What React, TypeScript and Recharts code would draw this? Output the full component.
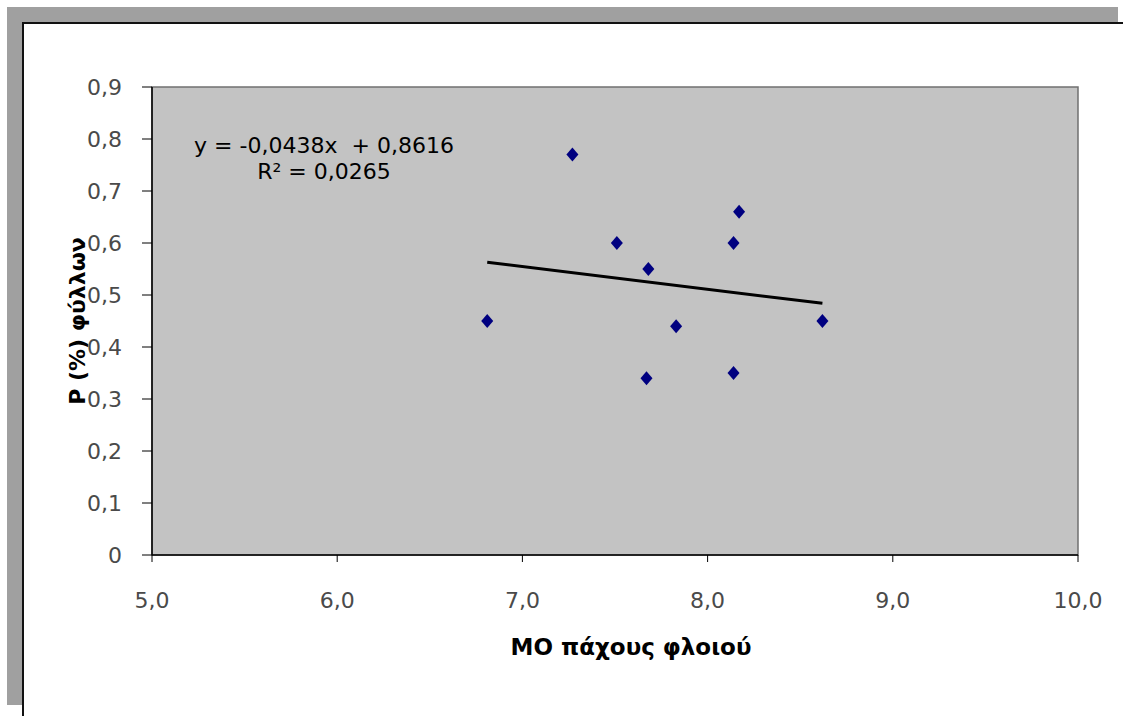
import {
  ReferenceArea,
  Scatter,
  ScatterChart,
  XAxis,
  YAxis,
} from 'recharts'

// bark thickness (MO) vs leaf P (%)
const barkThickness = [7.27, 8.17, 7.51, 8.14, 7.68, 6.81, 7.83, 8.62, 7.67, 8.14]
const leafP = [0.77, 0.66, 0.6, 0.6, 0.55, 0.45, 0.44, 0.45, 0.34, 0.35]

// linear trendline end points
const trendX = [6.81, 8.62]
const trendY = [0.563, 0.484]

const xTicks = [5, 6, 7, 8, 9, 10]
const yTicks = [0, 0.1, 0.2, 0.3, 0.4, 0.5, 0.6, 0.7, 0.8, 0.9]

const equation = 'y = -0,0438x  + 0,8616'
const rSquared = 'R² = 0,0265'
const xTitle = 'ΜΟ πάχους φλοιού'
const yTitle = 'P (%) φύλλων'

const points = barkThickness.map((x, i) => ({ x, y: leafP[i] }))
const trend = trendX.map((x, i) => ({ x, y: trendY[i] }))

const font = 'DejaVu Sans'
const tickStyle = { fill: '#4a4a4a', fontSize: 22, fontFamily: font }
const titleStyle = { fill: '#000', fontSize: 23, fontFamily: font, fontWeight: 700 }

function Diamond(props: any) {
  const { cx, cy } = props
  if (cx == null || cy == null) return <g />
  return (
    <polygon
      points={`${cx},${cy - 7} ${cx + 6},${cy} ${cx},${cy + 7} ${cx - 6},${cy}`}
      fill="#000080"
    />
  )
}

const comma = (v: number, digits: number) => v.toFixed(digits).replace('.', ',')

export default function App() {
  return (
    <div style={{ position: 'absolute', left: 0, top: 0, width: 1123, height: 716, background: '#fff', overflow: 'hidden' }}>
      {/* worksheet frame */}
      <div style={{ position: 'absolute', left: 7, top: 7, width: 1111, height: 16, background: '#a0a0a0' }} />
      <div style={{ position: 'absolute', left: 7, top: 7, width: 16, height: 698, background: '#a0a0a0' }} />
      <div style={{ position: 'absolute', left: 23, top: 22, width: 1100, height: 2, background: '#111' }} />
      <div style={{ position: 'absolute', left: 22, top: 22, width: 2, height: 694, background: '#111' }} />

      <div style={{ position: 'absolute', left: 0, top: 0 }}>
        <ScatterChart width={1123} height={716} margin={{ top: 87, right: 45, bottom: 101, left: 92 }}>
          <ReferenceArea
            x1={5}
            x2={10}
            y1={0}
            y2={0.9}
            fill="#c3c3c3"
            fillOpacity={1}
            stroke="#707070"
            strokeWidth={1.5}
          />
          <XAxis
            type="number"
            dataKey="x"
            domain={[5, 10]}
            ticks={xTicks}
            interval={0}
            height={60}
            tick={tickStyle}
            tickSize={7}
            tickMargin={30}
            tickLine={{ stroke: '#000' }}
            axisLine={{ stroke: '#000', strokeWidth: 1.5 }}
            tickFormatter={(v: number) => comma(v, 1)}
            label={{ value: xTitle, position: 'bottom', offset: 24, dx: 16, style: titleStyle }}
          />
          <YAxis
            type="number"
            dataKey="y"
            domain={[0, 0.9]}
            ticks={yTicks}
            interval={0}
            width={60}
            tick={tickStyle}
            tickSize={10}
            tickMargin={20}
            tickLine={{ stroke: '#000' }}
            axisLine={{ stroke: '#000', strokeWidth: 1.5 }}
            tickFormatter={(v: number) => (v === 0 ? '0' : comma(v, 1))}
            label={{
              value: yTitle,
              angle: -90,
              position: 'insideLeft',
              offset: -15,
              style: { ...titleStyle, fontSize: 22, textAnchor: 'middle' },
            }}
          />
          <Scatter
            data={trend}
            line={{ stroke: '#000', strokeWidth: 3 }}
            shape={() => <g />}
            isAnimationActive={false}
          />
          <Scatter data={points} shape={Diamond} isAnimationActive={false} />
        </ScatterChart>
      </div>

      <div
        style={{
          position: 'absolute',
          left: 174,
          top: 133,
          width: 300,
          textAlign: 'center',
          fontFamily: font,
          fontSize: 22,
          lineHeight: '26px',
          color: '#000',
          whiteSpace: 'pre',
        }}
      >
        <div>{equation}</div>
        <div>{rSquared}</div>
      </div>
    </div>
  )
}
